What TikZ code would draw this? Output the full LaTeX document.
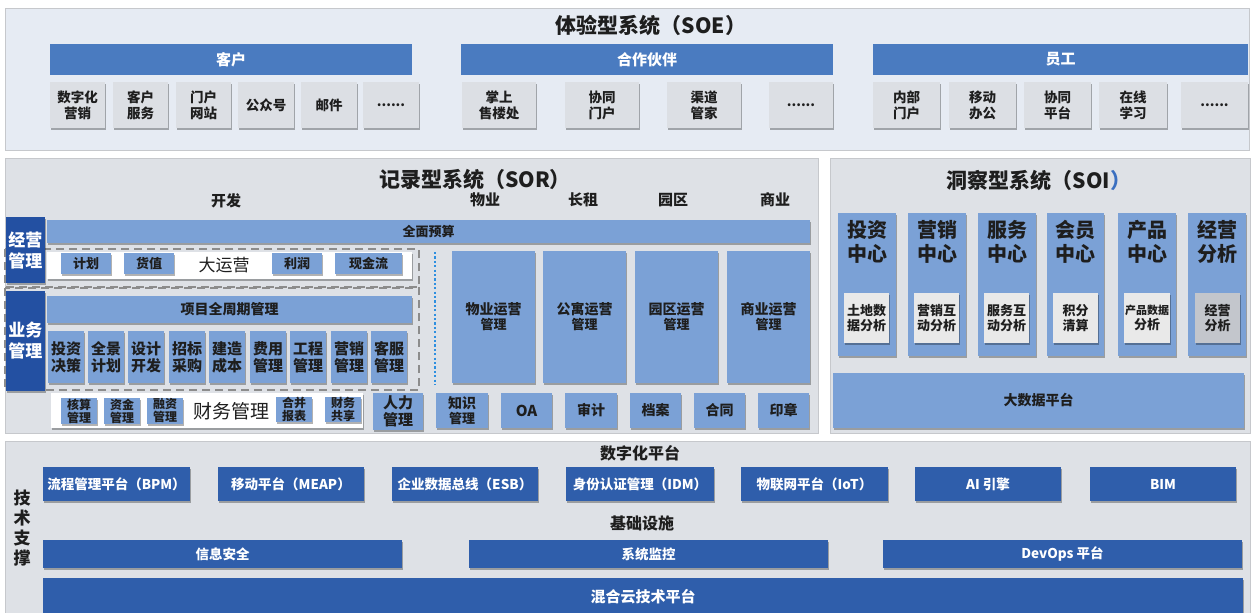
\documentclass[tikz,border=0pt]{standalone}
\usepackage{fontspec}
\setmainfont{Noto Sans CJK SC}
\usetikzlibrary{shadows}
\definecolor{panelA}{HTML}{E6EBF3}
\definecolor{panelB}{HTML}{DEE1E6}
\definecolor{pborder}{HTML}{C6C8CC}
\definecolor{hdrblue}{HTML}{4A7BC0}
\definecolor{greybox}{HTML}{DCDFE4}
\definecolor{lblue}{HTML}{7BA1D6}
\definecolor{dlabel}{HTML}{2350A2}
\definecolor{techblue}{HTML}{2F5EAB}
\definecolor{txt}{HTML}{1E1E1E}
\definecolor{soiinner}{HTML}{E9E9E9}
\definecolor{soiinner2}{HTML}{C3C6CC}
\definecolor{dotblue}{HTML}{2E8FE0}
\definecolor{dashgrey}{HTML}{8C8C8C}
\definecolor{soiblue}{HTML}{3A6FC0}
\newcommand\fs[2]{\fontsize{#1}{#2}\selectfont}
\newcommand\bx[7]{\node[#6,minimum width={(#4-#2)*1pt},minimum height={(#5-#3)*1pt}] (#1) at ({(#2+#4)/2},{(#3+#5)/2}) {#7};}
\begin{document}
\begin{tikzpicture}[x=1pt,y=-1pt,
  base/.style={inner sep=0pt,outer sep=0pt,align=center,text=txt},
  sh/.style={drop shadow={shadow xshift=1.2pt,shadow yshift=-1.8pt,opacity=0.3,fill=black}},
  panelE/.style={base,fill=panelA,draw=pborder,line width=1pt},
  panelG/.style={base,fill=panelB,draw=pborder,line width=1pt},
  hdr/.style={base,fill=hdrblue,text=white,font=\fs{15}{17}\bfseries},
  gbox/.style={base,sh,fill=greybox,font=\fs{13.5}{16}\bfseries},
  title/.style={base,font=\fs{21}{24}\bfseries},
  collbl/.style={base,font=\fs{15}{17}\bfseries},
  lb/.style={base,sh,fill=lblue,font=\fs{13}{15}\bfseries},
  lbs/.style={base,sh,fill=lblue,font=\fs{12}{13}\bfseries},
  lbm/.style={base,sh,fill=lblue,font=\fs{15}{17}\bfseries},
  dlab/.style={base,sh,fill=dlabel,text=white,font=\fs{17}{21}\bfseries},
  wbox/.style={base,sh,fill=white},
  soicol/.style={base,sh,fill=lblue,font=\fs{20}{24}\bfseries},
  soiin/.style={base,sh,fill=soiinner,font=\fs{13}{15}\bfseries},
  tb/.style={base,sh,fill=techblue,text=white,font=\fs{13.5}{16}\bfseries},
  dashline/.style={draw=dashgrey,line width=2pt,dash pattern=on 8pt off 5pt},
]
\useasboundingbox (0,0) rectangle (1251,613);
\fill[white] (0,0) rectangle (1251,613);

% ===== SOE =====
\bx{soe}{5}{8}{1249}{150}{panelE}{}
\node[title] (soeT) at (651,25) {体验型系统（SOE）};
\bx{hC}{50}{44}{412}{75}{hdr}{客户}
\bx{hP}{461}{44}{833}{75}{hdr}{合作伙伴}
\bx{hE}{873}{44}{1248}{75}{hdr}{员工}
\bx{c1}{50}{82}{105}{128}{gbox}{数字化\\营销}
\bx{c2}{113}{82}{168}{128}{gbox}{客户\\服务}
\bx{c3}{176}{82}{231}{128}{gbox}{门户\\网站}
\bx{c4}{238}{82}{294}{128}{gbox}{公众号}
\bx{c5}{301}{82}{357}{128}{gbox}{邮件}
\bx{c6}{363}{82}{419}{128}{gbox}{......}
\bx{p1}{462}{82}{536}{128}{gbox}{掌上\\售楼处}
\bx{p2}{565}{82}{639}{128}{gbox}{协同\\门户}
\bx{p3}{667}{82}{741}{128}{gbox}{渠道\\管家}
\bx{p4}{769}{82}{833}{128}{gbox}{......}
\bx{e1}{873}{82}{940}{128}{gbox}{内部\\门户}
\bx{e2}{949}{82}{1016}{128}{gbox}{移动\\办公}
\bx{e3}{1024}{82}{1091}{128}{gbox}{协同\\平台}
\bx{e4}{1099}{82}{1167}{128}{gbox}{在线\\学习}
\bx{e5}{1181}{82}{1248}{128}{gbox}{......}

% ===== SOR =====
\bx{sor}{5}{158}{818}{433}{panelG}{}
\node[title] (sorT) at (475,179) {记录型系统（SOR）};
\node[collbl] (kf) at (226,201) {开发};
\node[collbl] (wy) at (485,200) {物业};
\node[collbl] (cz) at (583,200) {长租};
\node[collbl] (yq) at (673,200) {园区};
\node[collbl] (sy) at (775,200) {商业};
\bx{qmys}{47}{220}{810}{243}{lb}{全面预算}

\draw[dashline] (5,249) rectangle (419,287);
\draw[dashline] (5,288) rectangle (419,390);
\coordinate (dotA) at (435,252);
\coordinate (dotB) at (435,385);
\draw[draw=dotblue,line width=2pt,dash pattern=on 2.2pt off 2.2pt] (dotA) -- (dotB);

\bx{jygl}{6}{217}{45}{283}{dlab}{经营\\管理}
\bx{dyy}{47}{252}{412}{279}{wbox}{}
\bx{jh}{61}{253}{111}{274}{lb}{计划}
\bx{hz}{124}{253}{174}{274}{lb}{货值}
\node[base,font=\fs{17}{19}] (dyyT) at (224,265) {大运营};
\bx{lr}{272}{253}{322}{274}{lb}{利润}
\bx{xjl}{335}{253}{402}{274}{lb}{现金流}

\bx{ywgl}{6}{291}{45}{391}{dlab}{业务\\管理}
\bx{xmq}{47}{296}{412}{323}{lb}{\fs{14}{16}\bfseries 项目全周期管理}
\bx{b1}{48}{331}{84}{383}{lbm}{投资\\决策}
\bx{b2}{88}{331}{124}{383}{lbm}{全景\\计划}
\bx{b3}{128}{331}{164}{383}{lbm}{设计\\开发}
\bx{b4}{169}{331}{205}{383}{lbm}{招标\\采购}
\bx{b5}{209}{331}{245}{383}{lbm}{建造\\成本}
\bx{b6}{250}{331}{286}{383}{lbm}{费用\\管理}
\bx{b7}{290}{331}{326}{383}{lbm}{工程\\管理}
\bx{b8}{331}{331}{367}{383}{lbm}{营销\\管理}
\bx{b9}{371}{331}{407}{383}{lbm}{客服\\管理}

\bx{cwbox}{51}{393}{363}{428}{wbox}{}
\bx{f1}{61}{398}{97}{424}{lbs}{核算\\管理}
\bx{f2}{104}{398}{140}{424}{lbs}{资金\\管理}
\bx{f3}{147}{398}{183}{424}{lbs}{融资\\管理}
\node[base,font=\fs{19}{21}] (cwT) at (231,411) {财务管理};
\bx{f4}{276}{397}{312}{422}{lbs}{合并\\报表}
\bx{f5}{325}{397}{361}{422}{lbs}{财务\\共享}
\bx{rlgl}{373}{393}{423}{430}{lbm}{人力\\管理}

\bx{o1}{452}{251}{535}{383}{lb}{\fs{14}{16}\bfseries 物业运营\\管理}
\bx{o2}{543}{251}{626}{383}{lb}{\fs{14}{16}\bfseries 公寓运营\\管理}
\bx{o3}{635}{251}{718}{383}{lb}{\fs{14}{16}\bfseries 园区运营\\管理}
\bx{o4}{727}{251}{810}{383}{lb}{\fs{14}{16}\bfseries 商业运营\\管理}
\bx{r1}{436}{393}{488}{428}{lb}{\fs{14}{15}\bfseries 知识\\管理}
\bx{r2}{501}{393}{552}{428}{lb}{\fs{15}{17}\bfseries OA}
\bx{r3}{565}{393}{617}{428}{lb}{\fs{14}{16}\bfseries 审计}
\bx{r4}{630}{393}{681}{428}{lb}{\fs{14}{16}\bfseries 档案}
\bx{r5}{694}{393}{745}{428}{lb}{\fs{14}{16}\bfseries 合同}
\bx{r6}{758}{393}{809}{428}{lb}{\fs{14}{16}\bfseries 印章}

% ===== SOI =====
\bx{soi}{830}{158}{1250}{433}{panelG}{}
\node[title] (soiT) at (1039,180) {洞察型系统（SOI\textcolor{soiblue}{）}};
\bx{s1}{838}{213}{896}{356}{soicol}{}
\bx{s2}{908}{213}{966}{356}{soicol}{}
\bx{s3}{978}{213}{1036}{356}{soicol}{}
\bx{s4}{1047}{213}{1104}{356}{soicol}{}
\bx{s5}{1118}{213}{1176}{356}{soicol}{}
\bx{s6}{1188}{213}{1246}{356}{soicol}{}
\node[base,font=\fs{20}{24}\bfseries] (s1t) at (867,242) {投资\\中心};
\node[base,font=\fs{20}{24}\bfseries] (s2t) at (937,242) {营销\\中心};
\node[base,font=\fs{20}{24}\bfseries] (s3t) at (1007,242) {服务\\中心};
\node[base,font=\fs{20}{24}\bfseries] (s4t) at (1075.5,242) {会员\\中心};
\node[base,font=\fs{20}{24}\bfseries] (s5t) at (1147,242) {产品\\中心};
\node[base,font=\fs{20}{24}\bfseries] (s6t) at (1217,242) {经营\\分析};
\bx{i1}{844}{293}{889}{343}{soiin}{土地数\\据分析}
\bx{i2}{914}{293}{959}{343}{soiin}{营销互\\动分析}
\bx{i3}{984}{293}{1029}{343}{soiin}{服务互\\动分析}
\bx{i4}{1053}{293}{1098}{343}{soiin}{积分\\清算}
\bx{i5}{1124}{293}{1170}{343}{soiin}{\fs{11}{14}\bfseries 产品数据\\分析}
\bx{i6}{1195}{293}{1240}{343}{soiin,fill=soiinner2}{经营\\分析}
\bx{bigdata}{833}{373}{1244}{428}{lb}{\fs{14}{16}\bfseries 大数据平台}

% ===== Tech =====
\bx{tech}{5}{441}{1250}{616}{panelG}{}
\node[base,font=\fs{17}{20}\bfseries] (jszc) at (22,528) {技\\术\\支\\撑};
\node[base,font=\fs{16}{18}\bfseries] (szh) at (640,453) {数字化平台};
\node[base,font=\fs{16}{18}\bfseries] (jcss) at (642,523) {基础设施};
\bx{t1}{43}{467}{190}{501}{tb}{流程管理平台（BPM）}
\bx{t2}{218}{467}{364}{501}{tb}{移动平台（MEAP）}
\bx{t3}{392}{467}{538}{501}{tb}{企业数据总线（ESB）}
\bx{t4}{566}{467}{714}{501}{tb}{身份认证管理（IDM）}
\bx{t5}{741}{467}{888}{501}{tb}{物联网平台（IoT）}
\bx{t6}{915}{467}{1061}{501}{tb}{AI 引擎}
\bx{t7}{1090}{467}{1236}{501}{tb}{BIM}
\bx{g1}{43}{540}{402}{568}{tb}{信息安全}
\bx{g2}{469}{540}{828}{568}{tb}{系统监控}
\bx{g3}{883}{540}{1242}{568}{tb}{DevOps 平台}
\bx{hyy}{43}{578}{1243}{616}{tb}{\fs{15}{17}\bfseries 混合云技术平台}
\end{tikzpicture}
\end{document}
